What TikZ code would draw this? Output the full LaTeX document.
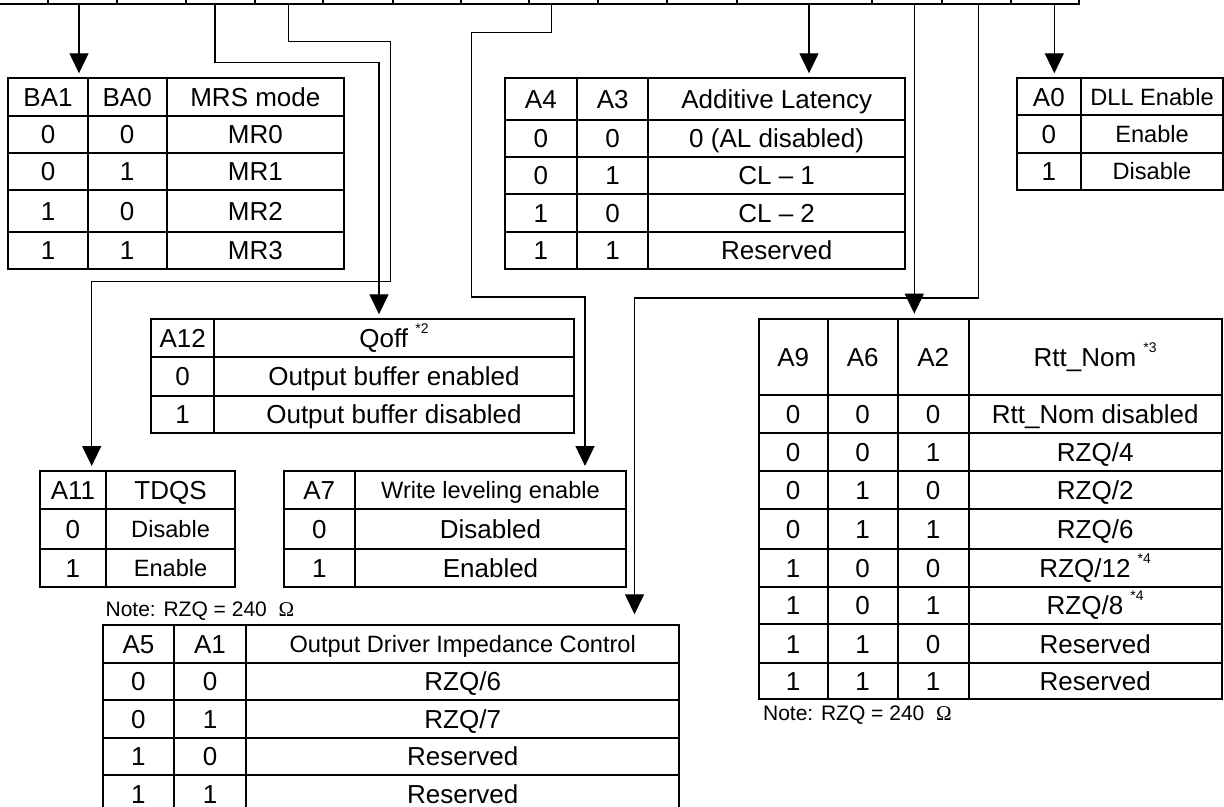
\documentclass[tikz,border=0pt]{standalone}
\usepackage{fontspec}
\setmainfont{Liberation Sans}
\newfontfamily\omegafont{Liberation Serif}
\usetikzlibrary{matrix,arrows.meta}

\newcommand{\tabfont}{\fontsize{13}{15}\selectfont}
\newcommand{\tabsmall}{\fontsize{11.8}{14}\selectfont}
\newcommand{\notefont}{\fontsize{10.5}{12}\selectfont}
\newcommand{\starnote}[1]{\raisebox{7pt}{\fontsize{7}{8}\selectfont *#1}}

\tikzset{
  regtab/.style={matrix of nodes, anchor=north west, inner sep=0pt, outer sep=0pt,
    column sep=-1pt, row sep=-1pt,
    nodes={draw, line width=1pt, inner sep=0pt, outer sep=0pt, anchor=center,
      minimum height=18.75pt, text height=9.3pt, text depth=0pt, font=\tabfont}},
  smallcell/.style={font=\tabsmall, text height=8.45pt},
  conn/.style={line width=0.65pt, -{Triangle[length=10pt,width=9.5pt]}, shorten >=2pt},
  bar/.style={line width=1pt},
  note/.style={anchor=base west, inner sep=0pt, font=\notefont},
}

\begin{document}
\begin{tikzpicture}[x=0.5pt,y=-0.5pt]
  \useasboundingbox (0,0) rectangle (1224,807);
  \draw[bar] (-10,4) -- (1079.3,4) -- (1079.3,-10);
  \draw[bar] (48.3,-10) -- (48.3,4);
  \draw[bar] (116.7,-10) -- (116.7,4);
  \draw[bar] (185.7,-10) -- (185.7,4);
  \draw[bar] (255,-10) -- (255,4);
  \draw[bar] (323.3,-10) -- (323.3,4);
  \draw[bar] (392.7,-10) -- (392.7,4);
  \draw[bar] (460.7,-10) -- (460.7,4);
  \draw[bar] (529.3,-10) -- (529.3,4);
  \draw[bar] (598.3,-10) -- (598.3,4);
  \draw[bar] (666.7,-10) -- (666.7,4);
  \draw[bar] (736.7,-10) -- (736.7,4);
  \draw[bar] (872.3,-10) -- (872.3,4);
  \draw[bar] (941.7,-10) -- (941.7,4);
  \draw[bar] (1011,-10) -- (1011,4);
  \coordinate (bitBA) at (79,4);
  \coordinate (bitA12) at (215,4);
  \coordinate (bitA11) at (288.3,4);
  \coordinate (bitA7) at (551.7,4);
  \coordinate (bitA43) at (809,4);
  \coordinate (bitA2) at (914.3,4);
  \coordinate (bitA1) at (978.3,4);
  \coordinate (bitA0) at (1054.3,4);

  \matrix[regtab,
    column 1/.style={nodes={minimum width=39.7pt}},
    column 2/.style={nodes={minimum width=39.5pt}},
    column 3/.style={nodes={minimum width=88.65pt}},
    row 1/.style={nodes={minimum height=18.85pt}},
    row 2/.style={nodes={minimum height=18.35pt}},
    row 3/.style={nodes={minimum height=18.8pt}},
    row 4/.style={nodes={minimum height=20.85pt}},
    row 5/.style={nodes={minimum height=18.35pt}}] (mrs) at (7.3,77.3) {
    BA1 & BA0 & MRS mode \\
    0 & 0 & MR0 \\
    0 & 1 & MR1 \\
    1 & 0 & MR2 \\
    1 & 1 & MR3 \\
  };
  \matrix[regtab,
    column 1/.style={nodes={minimum width=36.15pt}},
    column 2/.style={nodes={minimum width=35.65pt}},
    column 3/.style={nodes={minimum width=128.35pt}},
    row 1/.style={nodes={minimum height=21pt}},
    row 2/.style={nodes={minimum height=18.35pt}},
    row 3/.style={nodes={minimum height=18.65pt}},
    row 4/.style={nodes={minimum height=18.7pt}},
    row 5/.style={nodes={minimum height=18.8pt}}] (al) at (503.7,77.3) {
    A4 & A3 & Additive Latency \\
    0 & 0 & 0 (AL disabled) \\
    0 & 1 & CL – 1 \\
    1 & 0 & CL – 2 \\
    1 & 1 & Reserved \\
  };
  \matrix[regtab,
    column 1/.style={nodes={minimum width=32.15pt}},
    column 2/.style={nodes={minimum width=71pt}},
    row 1/.style={nodes={minimum height=18.5pt}},
    row 2/.style={nodes={minimum height=18.7pt}},
    row 3/.style={nodes={minimum height=18.65pt}}] (dll) at (1015.7,77.3) {
    A0 & |[smallcell]| DLL Enable \\
    0 & |[smallcell]| Enable \\
    1 & |[smallcell]| Disable \\
  };
  \matrix[regtab,
    column 1/.style={nodes={minimum width=31.65pt}},
    column 2/.style={nodes={minimum width=179.7pt}},
    row 1/.style={nodes={minimum height=18.7pt}},
    row 2/.style={nodes={minimum height=19.65pt}},
    row 3/.style={nodes={minimum height=18.35pt}}] (qoff) at (150,318.3) {
    A12 & Qoff \starnote{2} \\
    0 & Output buffer enabled \\
    1 & Output buffer disabled \\
  };
  \matrix[regtab,
    column 1/.style={nodes={minimum width=33.25pt}},
    column 2/.style={nodes={minimum width=64.4pt}},
    row 1/.style={nodes={minimum height=19.15pt}},
    row 2/.style={nodes={minimum height=20pt}},
    row 3/.style={nodes={minimum height=18.85pt}}] (tdqs) at (38.7,470) {
    A11 & TDQS \\
    0 & |[smallcell]| Disable \\
    1 & |[smallcell]| Enable \\
  };
  \matrix[regtab,
    column 1/.style={nodes={minimum width=35.75pt}},
    column 2/.style={nodes={minimum width=135.5pt}},
    row 1/.style={nodes={minimum height=19.15pt}},
    row 2/.style={nodes={minimum height=20pt}},
    row 3/.style={nodes={minimum height=18.85pt}}] (wlev) at (282.5,470) {
    A7 & |[smallcell]| Write leveling enable \\
    0 & Disabled \\
    1 & Enabled \\
  };
  \matrix[regtab,
    column 1/.style={nodes={minimum width=35.15pt}},
    column 2/.style={nodes={minimum width=36.4pt}},
    column 3/.style={nodes={minimum width=216.3pt}},
    row 1/.style={nodes={minimum height=18.7pt}},
    row 2/.style={nodes={minimum height=18.8pt}},
    row 3/.style={nodes={minimum height=18.7pt}},
    row 4/.style={nodes={minimum height=18.8pt}},
    row 5/.style={nodes={minimum height=18.8pt}}] (odic) at (102.3,624.3) {
    A5 & A1 & |[smallcell]| Output Driver Impedance Control \\
    0 & 0 & RZQ/6 \\
    0 & 1 & RZQ/7 \\
    1 & 0 & Reserved \\
    1 & 1 & Reserved \\
  };
  \matrix[regtab,
    column 1/.style={nodes={minimum width=34.5pt}},
    column 2/.style={nodes={minimum width=35pt}},
    column 3/.style={nodes={minimum width=35.5pt}},
    column 4/.style={nodes={minimum width=126.5pt}},
    row 1/.style={nodes={minimum height=38.3pt}},
    row 2/.style={nodes={minimum height=19pt}},
    row 3/.style={nodes={minimum height=18.85pt}},
    row 4/.style={nodes={minimum height=19.15pt}},
    row 5/.style={nodes={minimum height=20pt}},
    row 6/.style={nodes={minimum height=18.85pt}},
    row 7/.style={nodes={minimum height=18.65pt}},
    row 8/.style={nodes={minimum height=19.5pt}},
    row 9/.style={nodes={minimum height=18pt}}] (rtt) at (757.7,317.7) {
    A9 & A6 & A2 & Rtt\_Nom \starnote{3} \\
    0 & 0 & 0 & Rtt\_Nom disabled \\
    0 & 0 & 1 & RZQ/4 \\
    0 & 1 & 0 & RZQ/2 \\
    0 & 1 & 1 & RZQ/6 \\
    1 & 0 & 0 & RZQ/12 \starnote{4} \\
    1 & 0 & 1 & RZQ/8 \starnote{4} \\
    1 & 1 & 0 & Reserved \\
    1 & 1 & 1 & Reserved \\
  };

  \draw[conn] (bitBA) -- (bitBA |- mrs.north);
  \draw[conn] (bitA12) -- ++(0,58.3) -| (qoff.north -| 379,0);
  \draw[conn] (bitA11) -- ++(0,37.7) -| ++(102.4,240) -| (tdqs.north -| 91.7,0);
  \draw[conn] (bitA7) -- ++(0,28.7) -| ++(-80,264.3) -| (wlev.north -| 585,0);
  \draw[conn] (bitA43) -- (bitA43 |- al.north);
  \draw[conn] (bitA2) -- (bitA2 |- rtt.north);
  \draw[conn, shorten >=5pt] (bitA1) -- ++(0,294) -| (odic.north -| 634.5,0);
  \draw[conn] (bitA0) -- (bitA0 |- dll.north);

  \node[note] (odicnote) at (105.2,616.7) {Note: RZQ = 240\ \ {\omegafont Ω}};
  \node[note] (rttnote) at (762.7,720) {Note: RZQ = 240\ \ {\omegafont Ω}};
\end{tikzpicture}
\end{document}
